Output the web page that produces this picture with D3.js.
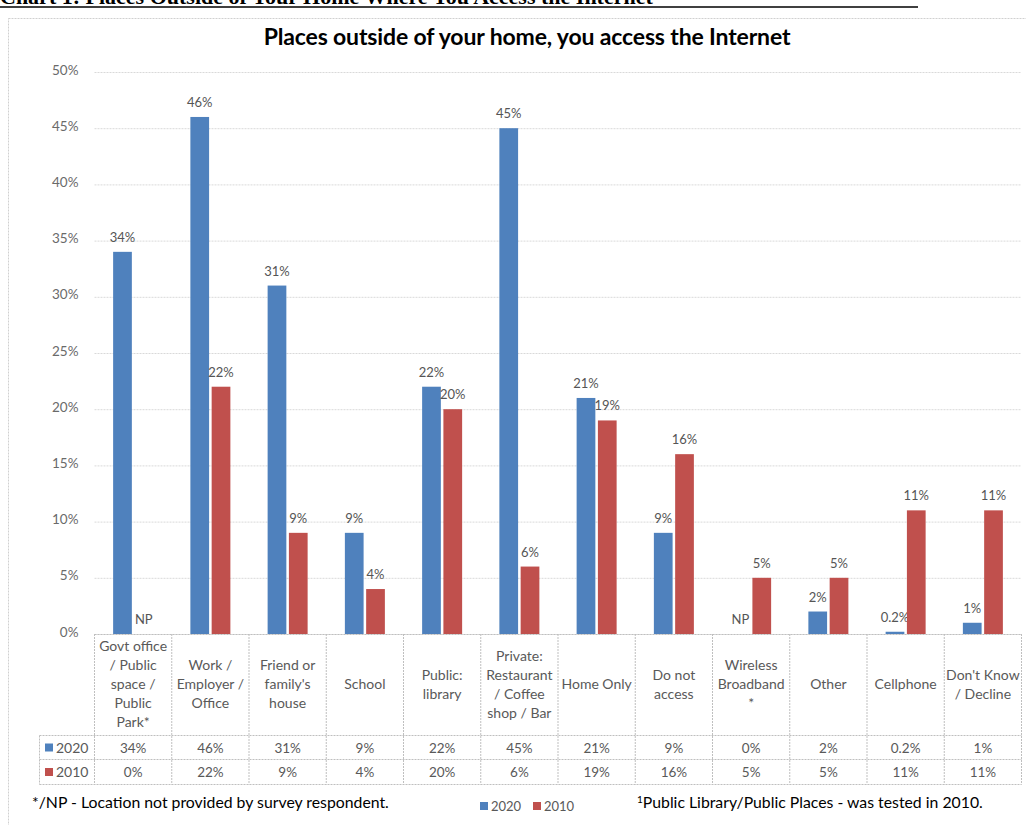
<!DOCTYPE html>
<html><head><meta charset="utf-8">
<script src="https://cdn.jsdelivr.net/npm/d3@7/dist/d3.min.js"></script>
<style>body{margin:0;background:#fff}svg{display:block}</style>
</head><body>
<svg id="c" width="1026" height="825"></svg>
<script>
const categories = [
  ["Govt office","/ Public","space /","Public","Park*"],
  ["Work /","Employer /","Office"],
  ["Friend or","family's","house"],
  ["School"],
  ["Public:","library"],
  ["Private:","Restaurant","/ Coffee","shop / Bar"],
  ["Home Only"],
  ["Do not","access"],
  ["Wireless","Broadband","*"],
  ["Other"],
  ["Cellphone"],
  ["Don't Know","/ Decline"]
];
const series = ["2020","2010"];
const values2020 = [34,46,31,9,22,45,21,9,0,2,0.2,1];
const values2010 = [0,22,9,4,20,6,19,16,5,5,11,11];
const barLabels2020 = ["34%","46%","31%","9%","22%","45%","21%","9%","NP","2%","0.2%","1%"];
const barLabels2010 = ["NP","22%","9%","4%","20%","6%","19%","16%","5%","5%","11%","11%"];
const table2020 = ["34%","46%","31%","9%","22%","45%","21%","9%","0%","2%","0.2%","1%"];
const table2010 = ["0%","22%","9%","4%","20%","6%","19%","16%","5%","5%","11%","11%"];
const yTicks = [0,5,10,15,20,25,30,35,40,45,50];
const colors = {"2020":"#4f81bd","2010":"#c0504d"};

(function(){
const font = "Lato, 'Open Sans', sans-serif";
const svg = d3.select("#c");

// clipped document heading
svg.append("text").attr("x",0).attr("y",4).attr("font-family","'Liberation Serif', serif")
  .attr("font-size",22).attr("font-weight","bold").attr("fill","#000")
  .text("Chart 1: Places Outside of Your Home Where You Access the Internet");
svg.append("line").attr("x1",0).attr("x2",918).attr("y1",7).attr("y2",7).attr("stroke","#000").attr("stroke-width",1.5);

// chart frame
svg.append("rect").attr("x",8.5).attr("y",18.5).attr("width",1030).attr("height",820)
  .attr("fill","#fff").attr("stroke","#d0d0d0").attr("stroke-dasharray","2,1");

const pLeft = 94.5, pRight = 1021.5, pTop = 72, pBottom = 634;
const x = d3.scaleBand().domain(d3.range(categories.length)).range([pLeft,pRight]);
const xs = d3.scaleBand().domain(series).range([0,40]).paddingInner(0.12);
const y = d3.scaleLinear().domain([0,50]).range([pBottom,pTop]);

svg.append("text").attr("x",527).attr("y",45).attr("text-anchor","middle")
  .attr("font-family",font).attr("font-size",23).attr("font-weight","bold").attr("fill","#000")
  .attr("letter-spacing",-0.15)
  .text("Places outside of your home, you access the Internet");

// gridlines + axis
const yAxis = d3.axisLeft(y).tickValues(yTicks).tickFormat(d=>d+"%").tickSize(-(pRight-pLeft)).tickPadding(16);
const ga = svg.append("g").attr("transform",`translate(${pLeft},0)`).call(yAxis);
ga.select(".domain").remove();
ga.selectAll(".tick line").attr("stroke","#d9d9d9").attr("stroke-dasharray","2,1");
ga.selectAll(".tick text").attr("font-family",font).attr("font-size",13.5).attr("fill","#6a6a6a").attr("dy","0.15em");

// bars
const groups = [values2020, values2010];
const labs = [barLabels2020, barLabels2010];
series.forEach((s,si)=>{
  const gx = i => x(i) + (x.bandwidth()-40)/2 + xs(s);
  svg.append("g").selectAll("rect").data(groups[si]).join("rect")
    .attr("x",(d,i)=>gx(i)).attr("width",xs.bandwidth())
    .attr("y",d=>y(d)).attr("height",d=>pBottom-y(d)).attr("fill",colors[s]);
  svg.append("g").selectAll("text").data(groups[si]).join("text")
    .attr("x",(d,i)=>gx(i)+xs.bandwidth()/2)
    .attr("y",(d,i)=> labs[si][i]==="NP" ? y(0)-10 : y(d)-10)
    .attr("text-anchor","middle").attr("font-family",font).attr("font-size",13).attr("fill","#555")
    .text((d,i)=>labs[si][i]);
});

// data table
const tLeft = 39.5, hdrBottom = 735.5, r1 = 759.5, r2 = 784.5;
const tg = svg.append("g").attr("stroke","#bfbfbf").attr("stroke-dasharray","2,1").attr("fill","none");
tg.append("line").attr("x1",pLeft).attr("x2",pRight).attr("y1",pBottom+0.5).attr("y2",pBottom+0.5);
[hdrBottom,r1,r2].forEach(yy=>tg.append("line").attr("x1",tLeft).attr("x2",pRight).attr("y1",yy).attr("y2",yy));
tg.append("line").attr("x1",tLeft).attr("x2",tLeft).attr("y1",hdrBottom).attr("y2",r2);
d3.range(categories.length+1).forEach(i=>{
  const xx = i<categories.length ? x(i) : pRight;
  tg.append("line").attr("x1",xx).attr("x2",xx).attr("y1",pBottom).attr("y2",r2);
});
const lh = 19;
categories.forEach((lines,i)=>{
  const cx = x(i)+x.bandwidth()/2;
  const mid = 689;
  const y0 = mid - (lines.length-1)*lh/2;
  lines.forEach((t,k)=>{
    svg.append("text").attr("x",cx).attr("y",y0+k*lh).attr("text-anchor","middle")
      .attr("font-family",font).attr("font-size",14).attr("fill","#595959").text(t);
  });
});
const rows = [table2020, table2010];
const rowY = [(hdrBottom+r1)/2, (r1+r2)/2];
series.forEach((s,si)=>{
  svg.append("rect").attr("x",45).attr("y",rowY[si]-4).attr("width",8).attr("height",8).attr("fill",colors[s]);
  svg.append("text").attr("x",56).attr("y",rowY[si]+5).attr("font-family",font).attr("font-size",14).attr("fill","#595959").text(s);
  svg.append("g").selectAll("text").data(rows[si]).join("text")
    .attr("x",(d,i)=>x(i)+x.bandwidth()/2).attr("y",rowY[si]+5).attr("text-anchor","middle")
    .attr("font-family",font).attr("font-size",13.5).attr("fill","#595959").text(d=>d);
});

// footnotes + legend
svg.append("text").attr("x",32).attr("y",808).attr("font-family",font).attr("font-size",15.8).attr("fill","#000")
  .text("*/NP - Location not provided by survey respondent.");
const lg = svg.append("g");
[["2020",480],["2010",533]].forEach(([s,lx])=>{
  lg.append("rect").attr("x",lx).attr("y",802).attr("width",8).attr("height",8).attr("fill",colors[s]);
  lg.append("text").attr("x",lx+11).attr("y",811).attr("font-family",font).attr("font-size",13).attr("fill","#595959").text(s);
});
const fn = svg.append("text").attr("x",637).attr("y",808).attr("font-family",font).attr("font-size",15.8).attr("fill","#000");
fn.append("tspan").attr("font-size",10).attr("dy",-5).text("1");
fn.append("tspan").attr("dy",5).text("Public Library/Public Places - was tested in 2010.");
})();
</script>
</body></html>
